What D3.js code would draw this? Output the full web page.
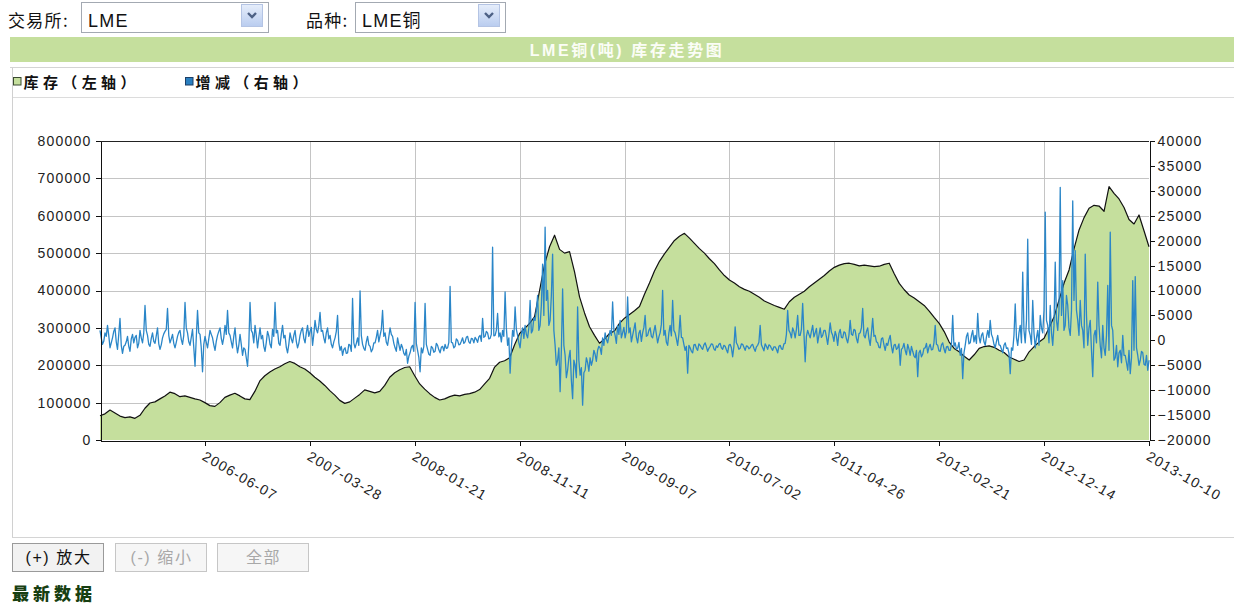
<!DOCTYPE html>
<html><head><meta charset="utf-8">
<script src="https://cdn.jsdelivr.net/npm/d3@7"></script>
<style>
html,body{margin:0;padding:0;background:#fff;overflow:hidden;}
svg{display:block;}
</style></head><body>
<svg id="c" width="1234" height="605"></svg>
<script>
// ---- data ----
const exchangeName = "LME";
const productName = "LME铜";
const chartTitle = "LME铜(吨) 库存走势图";
const legendItems = ["库存（左轴）", "增减（右轴）"];
const tickLabels = ["2006-06-07","2007-03-28","2008-01-21","2008-11-11","2009-09-07","2010-07-02","2011-04-26","2012-02-21","2012-12-14","2013-10-10"];
const leftTicks = [0,100000,200000,300000,400000,500000,600000,700000,800000];
const rightTicks = [-20000,-15000,-10000,-5000,0,5000,10000,15000,20000,25000,30000,35000,40000];
const buttons = ["(+) 放大", "(-) 缩小", "全部"];

// inventory (left axis, tonnes)
const inventory = [65000,70000,80000,72000,64000,60000,62000,58000,66000,85000,
99000,102000,110000,118000,128000,124000,116000,118000,114000,110000,
107000,100000,92000,90000,100000,114000,120000,125000,118000,110000,
108000,130000,158000,172000,182000,190000,196000,204000,210000,205000,
196000,190000,180000,168000,158000,146000,132000,120000,106000,98000,
102000,112000,122000,134000,130000,126000,130000,146000,168000,180000,
188000,194000,196000,172000,150000,136000,124000,114000,107000,110000,
116000,120000,118000,122000,124000,128000,135000,150000,165000,195000,
208000,212000,220000,255000,285000,298000,312000,330000,400000,470000,
517000,548000,510000,500000,504000,450000,383000,340000,303000,280000,
259000,270000,285000,292000,312000,326000,336000,346000,357000,390000,
420000,452000,478000,498000,516000,534000,545000,553000,540000,526000,
512000,500000,485000,472000,455000,440000,428000,420000,410000,403000,
398000,390000,382000,372000,366000,360000,355000,350000,370000,382000,
390000,398000,410000,420000,430000,440000,452000,462000,468000,472000,
473000,470000,466000,468000,466000,464000,465000,470000,473000,445000,
419000,402000,388000,380000,370000,360000,345000,328000,312000,290000,
262000,245000,236000,224000,214000,228000,245000,250000,252000,248000,
240000,234000,222000,216000,210000,214000,236000,250000,262000,272000,
300000,330000,375000,420000,455000,512000,562000,595000,620000,628000,
626000,612000,678000,660000,645000,622000,590000,578000,602000,560000,
517000];

// daily change (right axis, tonnes)
const changes = [
2000,500,-800,-200,1500,800,3000,1000,-1500,-500,500,1800,2500,-300,-1800,1200,4400,-1000,-2600,-1200,
-1000,-300,800,-1200,-2200,300,1200,-500,600,1000,-1500,-600,2000,500,-500,1500,7000,2000,1000,-800,
-1200,400,1500,-200,-600,900,2500,-700,-1800,-900,500,1300,1800,2200,6400,1000,-500,300,1200,-600,
-1500,-400,800,1600,2000,200,-800,1000,7600,2500,1500,-300,-1000,600,2200,-1400,-5200,500,6000,1500,
1200,-1500,-6300,-800,800,-400,-1500,300,2000,1200,500,-900,-2000,-200,1000,1800,2500,400,-800,600,
3000,1200,6000,1500,1000,-300,-1500,800,2500,-600,-2500,-1000,1200,-800,-3000,-1500,-1800,-3500,-5200,-1000,
7600,2000,1500,-500,3000,1000,-1500,600,2500,300,1000,-1200,-2200,-400,1800,900,-800,-1500,2200,800,
7600,1500,2000,-600,-1000,1200,3000,500,1000,-1400,-2500,-800,1500,300,-500,1000,2000,-200,-1500,-600,
1000,2000,2500,400,-500,1500,3000,800,1800,2600,-1000,1200,4000,2200,1500,3000,5600,1800,2000,500,
-500,1500,2500,300,1000,-800,-1500,-300,500,1800,5000,-500,-2000,-1200,-3000,-1800,-1500,-2600,-2500,-800,
-1000,-2200,8400,-500,-1500,-600,500,-1000,9900,1000,-800,-1600,-2000,-300,800,-900,-1200,-2300,-1800,-500,
-500,600,2000,-300,1000,2200,6000,800,1500,-400,-1000,700,2500,1200,800,-600,-1500,-2200,500,-800,
-2000,-800,-1500,-2600,-3000,-1800,-4600,-3200,-2500,-1400,-1000,-2200,7600,-600,-2000,-3400,-6300,-1500,-2500,-1200,
7400,-800,-1800,-2800,-3000,-1200,-1500,-2400,-2200,-600,-1000,-1900,-2500,-1400,-1200,-2100,-800,-1600,-1500,-400,
10800,-400,-500,-1500,-1200,300,0,-900,-800,-200,500,-600,-300,600,800,-300,-600,400,300,-500,
600,200,-400,700,1000,-200,4400,600,800,1800,1500,300,400,1200,18700,900,1000,2000,5400,700,
1500,-300,2000,800,9700,2500,-1000,500,-6600,-1500,2000,800,6700,2200,1000,-500,-1500,1200,2500,400,
3000,1200,500,2500,8000,1500,2000,4500,4000,6000,9000,2000,3000,7000,15300,5000,22700,8000,10000,3000,
4000,9000,17300,2000,-1000,-5000,-4000,-1500,-10300,-2000,10300,-1000,-3000,-7500,-6000,-3500,-2000,-8000,-11700,-4000,
-5000,-7500,6700,-4000,-7000,-5500,-13000,-6500,-6000,-3500,-4500,-6200,-3500,-5000,-4000,-2000,-2800,-4200,-2000,-1200,
-1500,-2800,500,-1000,1500,200,-500,800,2000,1000,7700,2000,1000,-600,3000,1200,4000,500,1500,2600,
500,1800,8700,1500,2500,-300,1000,2200,3500,600,-500,1400,2000,-200,1500,2600,5000,800,1000,2000,
2500,800,500,1800,3000,1200,-500,700,1500,3200,10000,1000,2000,-400,-1000,1500,3000,900,8000,2000,
1500,300,-1000,1200,5000,600,500,-800,-2000,-1200,-6600,-1000,-1500,-2200,-2500,-900,-800,-1600,-2000,-700,
-1000,-1500,-1800,-900,-500,-1300,-2200,-1600,-1200,-700,-800,-1700,-2000,-1100,-1400,-800,-600,-1500,-1800,-1000,
-1200,-1900,-2500,-1000,-800,-1500,-3300,-1200,2700,-500,-1000,-1800,-1600,-700,-800,-1400,-2000,-1100,-1200,-1700,
-1500,-1000,-800,-1600,-2200,-1300,-1000,-400,3000,-900,-1500,-2100,-700,-1200,-1800,-900,-1100,-1600,-2000,-1300,
-1300,-1800,-2500,-1200,-1000,-1700,-1800,-700,-600,1200,6000,2000,1500,500,2500,1800,500,2200,5000,1000,
1000,2200,7400,1500,-4300,800,2000,1200,500,1800,3000,700,1500,2400,-500,1000,2500,600,1000,2000,
2000,700,-800,1200,3500,1600,1000,-200,1800,900,-1000,1400,2200,600,500,1700,1500,300,-500,1000,
4000,1200,1000,2200,2000,400,-500,1300,1500,2500,6400,1000,500,1800,2500,300,-1000,1500,4400,800,
1000,-300,-500,-1400,-1500,300,500,-900,-2000,-600,-1000,200,1000,-1200,-2500,-1000,-800,-1800,-1500,-700,
-5000,-1800,-1500,-600,-2000,-2900,-800,-1700,-3000,-1200,-2200,-3100,-3500,-2000,-7300,-2500,-2000,-3300,-2800,-1600,
-1500,-600,-2500,-1400,-800,-1900,-1800,-500,3000,-800,-1000,-2100,-2200,-900,-500,-1700,-2500,-1300,-1200,-2000,
-2000,-800,5000,-1200,-500,-1800,-1500,-400,-3000,-1600,-7700,-2500,-1000,800,1500,-700,-500,1000,2000,-300,
1000,-600,5400,800,-500,1000,1500,-300,-1000,700,2000,600,4000,1200,500,-800,-1500,-200,1000,-900,
-1000,-1800,-2500,-1000,-500,-1600,-1500,-2600,-6700,-1500,-2000,1000,7300,500,-1000,1500,3000,-500,13700,2000,
-500,4000,20300,2000,1000,-800,8000,1500,-1500,500,2000,-1000,5000,2500,1500,6000,25700,4000,3000,-500,
7000,1500,-1000,3000,15700,4000,2000,6000,30700,5000,12000,2000,3000,9000,7000,2500,1000,6000,28000,8000,
18000,6000,4000,1000,8000,3000,2000,-1500,17300,5000,-1000,2500,4000,-2000,-7300,1000,2000,-500,11700,3000,
-1000,-3500,3000,-1500,-3000,1000,11000,-2000,21700,3000,2000,-4000,-3500,-1000,-5300,-2500,-2000,-4500,1000,-3000,
-3000,-4500,-6000,-2000,-6700,-3500,12000,-2000,12800,-1500,-3000,-5000,-4000,-2200,-2500,-4800,-5000,-3000,-6000,-4000];

// ---- drawing ----
const svg = d3.select('#c');
const CJK = '"Noto Sans CJK SC","Noto Sans",sans-serif';
const LAT = '"Liberation Sans",Arial,"Noto Sans CJK SC",sans-serif';
const defs = svg.append('defs');
const g1 = defs.append('linearGradient').attr('id','btnGrad').attr('x1',0).attr('y1',0).attr('x2',0).attr('y2',1);
g1.append('stop').attr('offset','0%').attr('stop-color','#e6eefb');
g1.append('stop').attr('offset','100%').attr('stop-color','#b9ccef');

// top selectors
function selector(x, w, label, labelX, value) {
  svg.append('text').attr('x', labelX).attr('y', 27).attr('font-family', CJK)
    .attr('font-size', 17).attr('letter-spacing', '1.3px').attr('fill', '#111').text(label);
  svg.append('rect').attr('x', x + 0.5).attr('y', 2.5).attr('width', w).attr('height', 30)
    .attr('fill', '#fff').attr('stroke', '#a3a9b2');
  svg.append('text').attr('x', x + 7).attr('y', 26.5).attr('font-family', LAT)
    .attr('font-size', 18).attr('letter-spacing', '1.2px').attr('fill', '#111').text(value);
  const bx = x + w - 27;
  svg.append('rect').attr('x', bx + 0.5).attr('y', 4.5).attr('width', 21).attr('height', 22)
    .attr('fill', 'url(#btnGrad)').attr('stroke', '#b4c4e4');
  svg.append('path').attr('d', `M${bx+7},${13} L${bx+11},${17} L${bx+15},${13}`)
    .attr('fill', 'none').attr('stroke', '#4d6185').attr('stroke-width', 2.4);
}
selector(81, 187, '交易所:', 8, exchangeName);
selector(355, 150, '品种:', 306, productName);

// title bar
svg.append('rect').attr('x', 10).attr('y', 37).attr('width', 1224).attr('height', 25).attr('fill', '#c5df9d');
svg.append('text').attr('x', 627).attr('y', 55.5).attr('text-anchor', 'middle')
  .attr('font-family', LAT).attr('font-size', 16).attr('font-weight', 700).attr('letter-spacing', '2.6px')
  .attr('fill', '#fbfdf6').text(chartTitle);

// panel lines
const panel = svg.append('g').attr('shape-rendering', 'crispEdges');
panel.append('line').attr('x1', 10).attr('x2', 1234).attr('y1', 67.5).attr('y2', 67.5).attr('stroke', '#d4d4d4');
panel.append('line').attr('x1', 12).attr('x2', 1234).attr('y1', 97.5).attr('y2', 97.5).attr('stroke', '#dcdcdc');
panel.append('line').attr('x1', 12.5).attr('x2', 12.5).attr('y1', 68).attr('y2', 538).attr('stroke', '#d0d0d0');
panel.append('line').attr('x1', 12).attr('x2', 1234).attr('y1', 537.5).attr('y2', 537.5).attr('stroke', '#d4d4d4');

// legend
const legColors = ['#c5df9d', '#2a7fc0'];
const legX = [13.5, 185.5];
legendItems.forEach((t, i) => {
  svg.append('rect').attr('x', legX[i]).attr('y', 77.5).attr('width', 7.5).attr('height', 7.5)
    .attr('fill', legColors[i]).attr('stroke', i === 0 ? '#3a4a30' : '#1d3e66');
  svg.append('text').attr('x', legX[i] + 10).attr('y', 88).attr('font-family', CJK)
    .attr('font-size', 15).attr('font-weight', 700).attr('letter-spacing', '4.4px')
    .attr('fill', '#111').text(t);
});

// scales
const P = {l: 100, r: 1149, t: 141, b: 440};
const xT = d3.scaleLinear().domain([0, tickLabels.length]).range([P.l, P.r]);
const xInv = d3.scaleLinear().domain([0, inventory.length - 1]).range([P.l, P.r]);
const xChg = d3.scaleLinear().domain([0, changes.length - 1]).range([P.l, P.r]);
const yL = d3.scaleLinear().domain([0, 800000]).range([P.b, P.t]);
const yR = d3.scaleLinear().domain([-20000, 40000]).range([P.b, P.t]);

// grid
const grid = svg.append('g').attr('shape-rendering', 'crispEdges');
leftTicks.filter(v => v > 0 && v < 800000).forEach(v => {
  grid.append('line').attr('x1', P.l).attr('x2', P.r).attr('y1', Math.round(yL(v)) + 0.5).attr('y2', Math.round(yL(v)) + 0.5)
    .attr('stroke', '#c4c4c4');
});
d3.range(1, tickLabels.length).forEach(i => {
  grid.append('line').attr('x1', Math.round(xT(i)) + 0.5).attr('x2', Math.round(xT(i)) + 0.5).attr('y1', P.t).attr('y2', P.b)
    .attr('stroke', '#c4c4c4');
});

// inventory area + line
svg.append('path').datum(inventory)
  .attr('d', d3.area().x((d, i) => xInv(i)).y0(yL(0)).y1(d => yL(d)))
  .attr('fill', '#c5df9d');
svg.append('path').datum(inventory)
  .attr('d', d3.line().x((d, i) => xInv(i)).y(d => yL(d)))
  .attr('fill', 'none').attr('stroke', '#111').attr('stroke-width', 1.2).attr('stroke-linejoin', 'round');

// changes line
svg.append('path').datum(changes)
  .attr('d', d3.line().x((d, i) => xChg(i)).y(d => yR(d)))
  .attr('fill', 'none').attr('stroke', '#2a86c8').attr('stroke-width', 1.3).attr('stroke-linejoin', 'round');

// top frame
svg.append('line').attr('x1', P.l).attr('x2', P.r).attr('y1', P.t + 0.5).attr('y2', P.t + 0.5)
  .attr('stroke', '#222').attr('shape-rendering', 'crispEdges');

function styleAxis(g) {
  g.attr('shape-rendering', 'crispEdges');
  g.select('.domain').attr('stroke', '#111');
  g.selectAll('.tick line').attr('stroke', '#111');
  g.selectAll('text').attr('font-family', LAT).attr('font-size', 14).attr('letter-spacing', '1.2px').attr('fill', '#222');
}

const axL = svg.append('g').attr('transform', `translate(${P.l + 0.5},0)`)
  .call(d3.axisLeft(yL).tickValues(leftTicks).tickSize(5).tickSizeOuter(0).tickPadding(4).tickFormat(d3.format('d')));
styleAxis(axL);

const axR = svg.append('g').attr('transform', `translate(${P.r + 0.5},0)`)
  .call(d3.axisRight(yR).tickValues(rightTicks).tickSize(5).tickSizeOuter(0).tickPadding(3).tickFormat(d3.format('d')));
styleAxis(axR);

const axB = svg.append('g').attr('transform', `translate(0,${P.b + 0.5})`)
  .call(d3.axisBottom(xT).tickValues(d3.range(1, tickLabels.length + 1)).tickSize(5).tickSizeOuter(0)
    .tickFormat(d => tickLabels[d - 1]));
styleAxis(axB);
axB.selectAll('text').attr('x', 0).attr('y', 0).attr('dy', '0.72em')
  .attr('text-anchor', 'start').attr('transform', 'translate(1,10) rotate(30)');

// buttons
const btnX = [12.5, 115.5, 217.5];
buttons.forEach((t, i) => {
  svg.append('rect').attr('x', btnX[i]).attr('y', 543.5).attr('width', 91).attr('height', 28)
    .attr('fill', i === 0 ? '#f2f2f2' : '#f6f6f6').attr('stroke', i === 0 ? '#9a9a9a' : '#c6c6c6')
    .attr('shape-rendering', 'crispEdges');
  svg.append('text').attr('x', btnX[i] + 46).attr('y', 563).attr('text-anchor', 'middle')
    .attr('font-family', LAT).attr('font-size', 16).attr('letter-spacing', '1.6px')
    .attr('fill', i === 0 ? '#111' : '#a8a8a8').text(t);
});

// footer heading
svg.append('text').attr('x', 12).attr('y', 600).attr('font-family', CJK)
  .attr('font-size', 17).attr('font-weight', 900).attr('letter-spacing', '4px')
  .attr('fill', '#173f12').text('最新数据');
</script>
</body></html>
